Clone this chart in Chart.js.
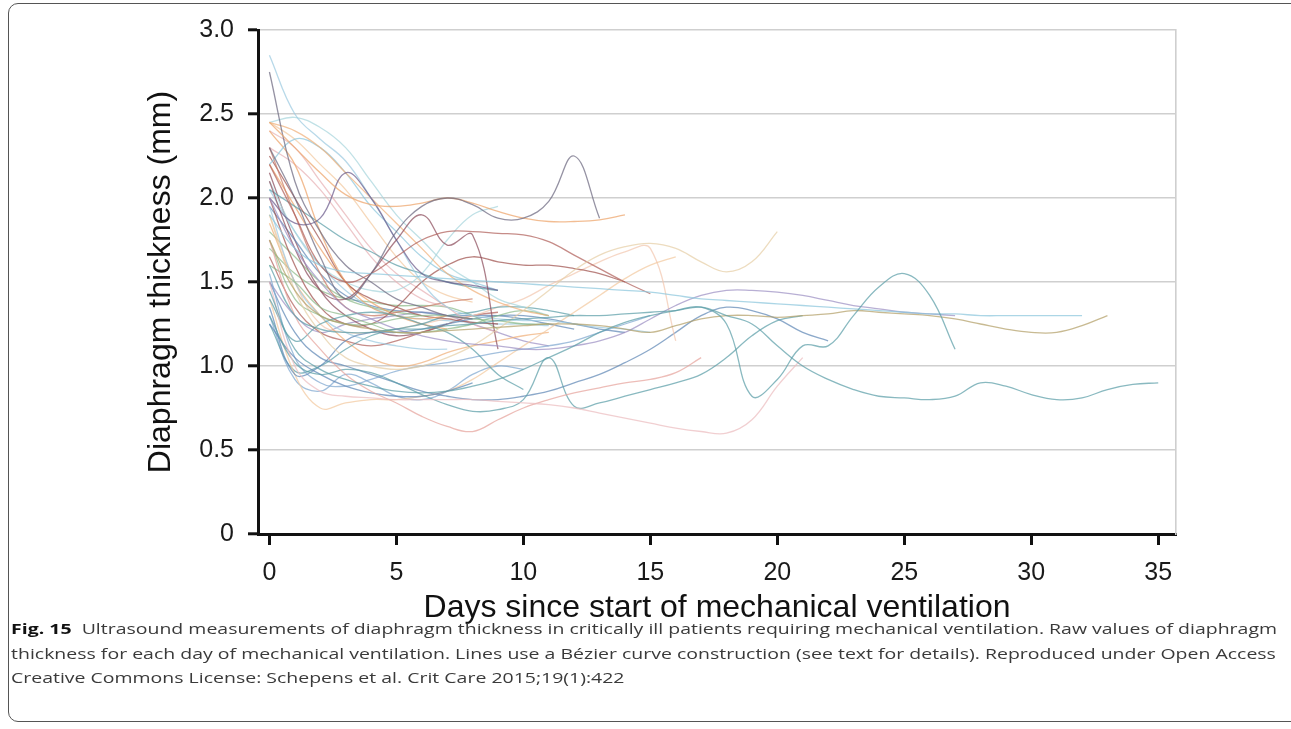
<!DOCTYPE html>
<html>
<head>
<meta charset="utf-8">
<script src="https://cdn.jsdelivr.net/npm/chart.js@4.4.0/dist/chart.umd.min.js"></script>
<style>
  html, body { margin: 0; padding: 0; background: #fff; }
  body { width: 1291px; height: 729px; position: relative; overflow: hidden; font-family: "Liberation Sans", Arial, sans-serif; }
  #frame { position: absolute; left: 8px; top: 3px; width: 1310px; height: 719px; border: 1.5px solid #555; border-radius: 10px; box-sizing: border-box; }
  #wrap { position: absolute; left: 0; top: 0; width: 1291px; height: 630px; }
  #caption { position: absolute; left: 11px; top: 617px; font-family: "Open Sans", sans-serif; font-size: 14.5px; color: #3a3a3a; line-height: 24.5px; }
  #caption div { white-space: nowrap; }
  #caption span { display: inline-block; transform-origin: 0 50%; }
  #caption b { color: #111; }
</style>
</head>
<body>
<div id="frame"></div>
<div id="wrap"><canvas id="thicknessChart"></canvas></div>
<div id="caption">
  <div><span><b>Fig. 15</b>&nbsp; Ultrasound measurements of diaphragm thickness in critically ill patients requiring mechanical ventilation. Raw values of diaphragm</span></div>
  <div><span>thickness for each day of mechanical ventilation. Lines use a Bézier curve construction (see text for details). Reproduced under Open Access</span></div>
  <div><span>Creative Commons License: Schepens et al. Crit Care 2015;19(1):422</span></div>
</div>
<script>
// daily diaphragm thickness (mm), index = day since start of ventilation
const p01 = [2.3, 2.0, 1.65, 1.4, 1.55, 1.8, 1.95, 2.0, 1.96, 1.88, 1.88, 1.98, 2.25, 1.88];
const p02 = [2.45, 2.3, 2.15, 2.02, 1.96, 1.95, 1.97, 2.0, 1.97, 1.92, 1.88, 1.86, 1.86, 1.87, 1.9];
const p03 = [1.6, 1.3, 1.22, 1.2, 1.2, 1.22, 1.22, 1.24, 1.25, 1.27, 1.28, 1.29, 1.3, 1.3, 1.31, 1.32, 1.33, 1.35, 1.3, 1.25, 1.12, 1.0, 0.92, 0.86, 0.82, 0.81, 0.8, 0.82, 0.9, 0.88, 0.83, 0.8, 0.81, 0.86, 0.89, 0.9];
const p04 = [1.45, 1.1, 0.98, 0.92, 0.88, 0.85, 0.84, 0.85, 0.88, 0.92, 0.98, 1.05, 1.12, 1.2, 1.26, 1.3, 1.33, 1.35, 1.25, 0.82, 0.92, 1.12, 1.12, 1.3, 1.47, 1.55, 1.42, 1.1];
const p05 = [1.9, 1.7, 1.6, 1.56, 1.55, 1.54, 1.53, 1.52, 1.51, 1.5, 1.49, 1.48, 1.47, 1.46, 1.45, 1.44, 1.42, 1.4, 1.39, 1.38, 1.37, 1.36, 1.35, 1.34, 1.33, 1.32, 1.31, 1.31, 1.3, 1.3, 1.3, 1.3, 1.3];
const p06 = [1.75, 1.45, 1.3, 1.25, 1.22, 1.2, 1.2, 1.21, 1.22, 1.23, 1.24, 1.25, 1.25, 1.24, 1.22, 1.2, 1.24, 1.28, 1.3, 1.3, 1.29, 1.3, 1.31, 1.33, 1.32, 1.31, 1.3, 1.28, 1.25, 1.22, 1.2, 1.2, 1.24, 1.3];
const p07 = [2.0, 1.7, 1.5, 1.35, 1.28, 1.22, 1.18, 1.15, 1.13, 1.12, 1.1, 1.1, 1.12, 1.15, 1.2, 1.28, 1.36, 1.42, 1.45, 1.45, 1.44, 1.42, 1.39, 1.36, 1.34, 1.32, 1.31, 1.3];
const p08 = [1.9, 1.45, 1.2, 1.05, 1.0, 0.98, 1.0, 1.05, 1.12, 1.22, 1.33, 1.45, 1.57, 1.66, 1.71, 1.73, 1.7, 1.62, 1.56, 1.62, 1.8];
const p09 = [1.5, 1.0, 0.85, 0.82, 0.81, 0.8, 0.8, 0.8, 0.8, 0.79, 0.78, 0.77, 0.75, 0.72, 0.69, 0.66, 0.63, 0.61, 0.6, 0.68, 0.88, 1.05];
const p10 = [1.75, 1.3, 1.1, 0.95, 0.85, 0.78, 0.7, 0.64, 0.61, 0.68, 0.75, 0.8, 0.84, 0.87, 0.9, 0.92, 0.96, 1.05];
const p11 = [1.3, 1.02, 0.95, 0.98, 0.96, 0.9, 0.83, 0.77, 0.73, 0.74, 0.8, 1.05, 0.76, 0.78, 0.82, 0.86, 0.9, 0.95, 1.05, 1.18, 1.27, 1.3];
const p12 = [1.4, 1.15, 1.25, 1.3, 1.32, 1.3, 1.25, 1.2, 1.1, 0.95, 0.86];
const p13 = [1.25, 1.05, 0.95, 0.88, 0.84, 0.82, 0.82, 0.85, 0.9];
const p14 = [2.2, 1.9, 1.6, 1.5, 1.55, 1.65, 1.75, 1.8, 1.8, 1.79, 1.78, 1.74, 1.66, 1.58, 1.5, 1.43];
const p15 = [2.1, 1.7, 1.45, 1.4, 1.55, 1.75, 1.9, 1.72, 1.78, 1.1];
const p16 = [2.0, 1.85, 1.88, 2.15, 2.0, 1.75, 1.55, 1.5, 1.48, 1.45];
const p17 = [2.85, 2.5, 2.35, 2.22, 2.0, 1.75, 1.5, 1.35, 1.3, 1.28, 1.27, 1.27, 1.25, 1.23, 1.22, 1.2];
const p18 = [2.75, 2.1, 1.8, 1.6, 1.5, 1.4, 1.35, 1.3, 1.28];
const p19 = [2.45, 2.4, 2.3, 2.15, 2.0, 1.85, 1.7, 1.55, 1.45, 1.38, 1.33, 1.3];
const p20 = [2.2, 2.35, 2.3, 2.15, 1.95, 1.8, 1.65, 1.55, 1.5, 1.45];
const p21 = [2.4, 2.2, 1.8, 1.5, 1.35, 1.3, 1.28, 1.3];
const p22 = [1.75, 1.4, 1.3, 1.25, 1.25, 1.28, 1.3, 1.3, 1.28, 1.27, 1.25, 1.25];
const p23 = [1.6, 1.5, 1.35, 1.3, 1.25, 1.2, 1.2, 1.22, 1.25, 1.3, 1.33, 1.3];
const p24 = [1.35, 0.95, 1.0, 1.15, 1.2, 1.2, 1.22, 1.25, 1.28, 1.3, 1.3, 1.28, 1.25, 1.22, 1.2];
const p25 = [1.55, 1.05, 0.9, 0.88, 0.92, 0.97, 1.0, 1.02, 1.05, 1.08, 1.1, 1.12, 1.15, 1.2, 1.25, 1.3];
const p26 = [1.4, 0.95, 0.75, 0.78, 0.8, 0.8, 0.82, 0.85, 0.92, 1.02, 1.12, 1.22, 1.32, 1.42, 1.52, 1.6, 1.65];
const p27 = [2.3, 1.9, 1.55, 1.35, 1.3, 1.32, 1.35, 1.38, 1.4];
const p28 = [2.25, 2.0, 1.75, 1.5, 1.4, 1.35, 1.3, 1.28, 1.26, 1.25];
const p29 = [2.05, 1.95, 1.85, 1.75, 1.68, 1.6, 1.55, 1.5, 1.47, 1.45];
const p30 = [1.95, 1.5, 1.3, 1.2, 1.15, 1.12, 1.1, 1.1];
const p31 = [2.0, 1.6, 1.35, 1.25, 1.25, 1.35, 1.5, 1.6, 1.65, 1.62, 1.6, 1.6, 1.58, 1.55, 1.5];
const p32 = [2.4, 2.3, 2.1, 1.9, 1.7, 1.55, 1.45, 1.35, 1.25, 1.2];
const p33 = [2.45, 2.48, 2.42, 2.3, 2.1, 1.9, 1.75, 1.6, 1.5, 1.4, 1.35, 1.3];
const p34 = [1.25, 0.97, 1.0, 1.1, 1.18, 1.22, 1.25, 1.3, 1.32, 1.35, 1.35, 1.33, 1.3];
const p35 = [1.85, 1.5, 1.3, 1.15, 1.05, 1.0, 1.02, 1.08, 1.12, 1.15, 1.18, 1.2];
const p36 = [2.1, 1.8, 1.6, 1.5, 1.45, 1.45, 1.55, 1.75, 1.9, 1.95];
const p37 = [1.9, 1.5, 1.25, 1.2, 1.2, 1.22, 1.25, 1.28, 1.3, 1.35, 1.4, 1.48, 1.55, 1.62, 1.68, 1.7, 1.15];
const p38 = [1.5, 1.2, 1.05, 1.0, 0.95, 0.9, 0.85, 0.82, 0.8, 0.8, 0.82, 0.85, 0.9, 0.95, 1.02, 1.1, 1.2, 1.3, 1.35, 1.33, 1.28, 1.2, 1.15];
const p39 = [1.3, 0.92, 0.85, 0.95, 0.9, 0.82, 0.8, 0.85, 0.95, 1.0, 0.98];
const p40 = [2.2, 1.95, 1.7, 1.5, 1.38, 1.3, 1.25, 1.22];
const p41 = [1.8, 1.65, 1.5, 1.4, 1.35, 1.32, 1.3];
const p42 = [2.05, 1.8, 1.6, 1.45, 1.35, 1.3, 1.28, 1.27, 1.26, 1.25, 1.25, 1.24];
const p43 = [1.65, 1.35, 1.2, 1.15, 1.12, 1.15, 1.2, 1.25, 1.3, 1.32];
const p44 = [2.3, 2.2, 2.05, 1.85, 1.65, 1.5, 1.4, 1.35];
const p45 = [1.95, 1.75, 1.55, 1.42, 1.36, 1.33, 1.32, 1.3, 1.3, 1.3, 1.28, 1.25, 1.22];
const p46 = [1.7, 1.55, 1.45, 1.4, 1.38, 1.36, 1.36, 1.35, 1.3, 1.22];
const p47 = [2.15, 1.75, 1.45, 1.3, 1.22, 1.18, 1.2, 1.25];
const p48 = [1.5, 1.3, 1.2, 1.25, 1.28, 1.3, 1.32, 1.3, 1.25, 1.2, 1.15, 1.12];
const p49 = [2.45, 2.35, 2.2, 2.05, 1.85, 1.65, 1.5, 1.42, 1.38];

const patients = [p01, p02, p03, p04, p05, p06, p07, p08, p09, p10, p11, p12, p13,
  p14, p15, p16, p17, p18, p19, p20, p21, p22, p23, p24, p25, p26, p27, p28, p29,
  p30, p31, p32, p33, p34, p35, p36, p37, p38, p39, p40, p41, p42, p43, p44, p45,
  p46, p47, p48, p49];

const xTicks = [0, 5, 10, 15, 20, 25, 30, 35];
const yTicks = [0, 0.5, 1.0, 1.5, 2.0, 2.5, 3.0];

// muted colours, one per patient line
const palette = ["#6c6880", "#eda36a", "#5b9ea8", "#5b9ea8", "#8cc6dc", "#b3a068", "#9c90c4", "#e6cfa6",
  "#ebbcbf", "#e6a39c", "#5b9ea8", "#5b9ea8", "#5f88b6", "#b0605a", "#8c4c5c", "#6c5c8c",
  "#9ccbe0", "#6c6880", "#f0b07a", "#8cc6dc", "#eda36a", "#8dbb8a", "#8dbb8a", "#5f88b6",
  "#7fa8d0", "#f2c9a0", "#c87a66", "#a0524d", "#5b9ea8", "#9ccbe0", "#a0524d", "#e7b1b6",
  "#a8d6dc", "#5b9ea8", "#f0b07a", "#a8d6dc", "#f2c8b0", "#5f88b6", "#7fa8d0", "#eda36a",
  "#8dbb8a", "#9ccbe0", "#b0605a", "#e7b1b6", "#5f88b6", "#8dbb8a", "#8c4c5c", "#9c90c4",
  "#f2c9a0"];

function toPoints(vals) {
  return vals.map((v, day) => ({ x: day, y: v }));
}

const axisFont = { family: "'Liberation Sans', Arial, sans-serif", size: 25 };
const titleFont = { family: "'Liberation Sans', Arial, sans-serif", size: 32 };

new Chart(document.getElementById("thicknessChart"), {
  type: "line",
  data: {
    datasets: patients.map((vals, i) => ({
      data: toPoints(vals),
      borderColor: palette[i] + "b8",
      borderWidth: 1.3,
      pointRadius: 0,
      tension: 0.4,
      fill: false
    }))
  },
  options: {
    responsive: true,
    maintainAspectRatio: false,
    animation: false,
    layout: { padding: { left: 142, right: 115, top: 30, bottom: 3 } },
    plugins: { legend: { display: false }, tooltip: { enabled: false } },
    scales: {
      x: {
        type: "linear",
        min: -0.45,
        max: 35.7,
        afterBuildTicks: s => { s.ticks = xTicks.map(v => ({ value: v })); },
        afterFit: s => { s.height = 93; },
        ticks: { font: axisFont, color: "#1a1a1a", padding: 13, maxRotation: 0 },
        grid: { drawOnChartArea: false, tickColor: "#111", tickWidth: 3, tickLength: 11 },
        border: { color: "#111", width: 3 },
        title: { display: true, text: "Days since start of mechanical ventilation", font: titleFont, color: "#111", padding: 0 }
      },
      y: {
        min: 0,
        max: 3,
        afterBuildTicks: s => { s.ticks = yTicks.map(v => ({ value: v })); },
        afterFit: s => { s.width = 116; },
        ticks: { font: axisFont, color: "#1a1a1a", padding: 14, callback: v => v === 0 ? "0" : v.toFixed(1) },
        grid: { color: "#cfcfcf", lineWidth: 1.6, tickColor: "#111", tickWidth: 3, tickLength: 10 },
        border: { color: "#111", width: 3 },
        title: { display: true, text: "Diaphragm thickness (mm)", font: titleFont, color: "#111", padding: 0 }
      },
      yRight: {
        position: "right",
        min: 0,
        max: 3,
        afterFit: s => { s.width = 0; },
        ticks: { display: false },
        grid: { drawOnChartArea: false, drawTicks: false },
        border: { color: "#cfcfcf", width: 1.6 }
      }
    }
  }
});

// squeeze the caption to the width of the original typesetting
const capLines = document.querySelectorAll("#caption span");
const scale = 1266 / capLines[0].getBoundingClientRect().width;
capLines.forEach(el => { el.style.transform = `scaleX(${scale})`; });
</script>
</body>
</html>
